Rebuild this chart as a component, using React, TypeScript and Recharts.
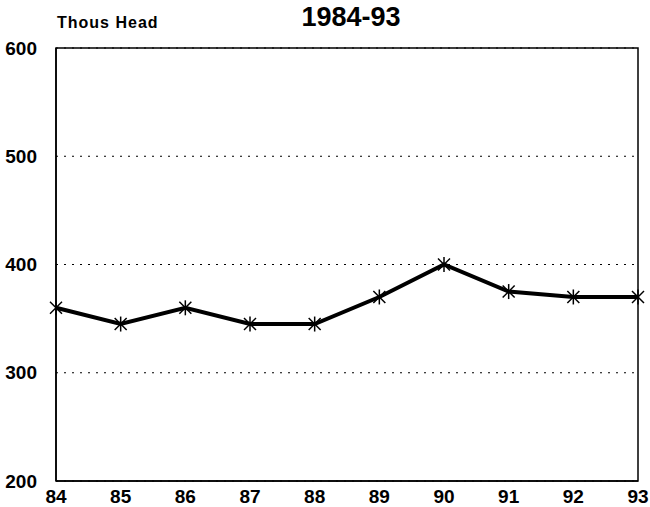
import { CartesianGrid, Line, LineChart, ReferenceArea, XAxis, YAxis } from "recharts";

const years = [84, 85, 86, 87, 88, 89, 90, 91, 92, 93];
const head = [360, 345, 360, 345, 345, 370, 400, 375, 370, 370];
const yTicks = [200, 300, 400, 500, 600];

const data = years.map((y, i) => ({ year: y, head: head[i] }));

const font = "'Liberation Sans', Arial, sans-serif";

function Star(props: any) {
  const { cx, cy } = props;
  if (cx == null || cy == null) return null;
  const r = 7.5;
  const d = r * 0.8;
  return (
    <g stroke="#000" strokeWidth={1.5}>
      <line x1={cx} y1={cy - r} x2={cx} y2={cy + r} />
      <line x1={cx - d} y1={cy - d} x2={cx + d} y2={cy + d} />
      <line x1={cx - d} y1={cy + d} x2={cx + d} y2={cy - d} />
    </g>
  );
}

export default function App() {
  return (
    <div style={{ position: "absolute", left: 0, top: 0, width: 650, height: 507, background: "#fff" }}>
      <LineChart width={650} height={507} data={data} margin={{ top: 48, right: 12, bottom: 0, left: 0 }}>
        <text x={351} y={26} textAnchor="middle" fontFamily={font} fontWeight="bold" fontSize={27}>
          1984-93
        </text>
        <text x={57} y={28} fontFamily={font} fontWeight="bold" fontSize={16} letterSpacing={1}>
          Thous Head
        </text>
        <CartesianGrid vertical={false} stroke="#000" strokeDasharray="2 6" strokeWidth={1} />
        <XAxis
          dataKey="year"
          type="number"
          domain={[84, 93]}
          ticks={years}
          height={26}
          tickLine={false}
          axisLine={{ stroke: "#000", strokeWidth: 1.5 }}
          tick={{ fill: "#000", fontFamily: font, fontWeight: "bold", fontSize: 19 }}
          tickMargin={3}
        />
        <YAxis
          domain={[200, 600]}
          ticks={yTicks}
          width={56}
          tickLine={false}
          axisLine={{ stroke: "#000", strokeWidth: 1.5 }}
          tick={{ fill: "#000", fontFamily: font, fontWeight: "bold", fontSize: 19 }}
          tickMargin={13}
        />
        <ReferenceArea x1={84} x2={93} y1={200} y2={600} fill="none" stroke="#000" strokeWidth={1.5} />
        <Line
          dataKey="head"
          stroke="#000"
          strokeWidth={4}
          dot={<Star />}
          activeDot={false}
          isAnimationActive={false}
        />
      </LineChart>
    </div>
  );
}
